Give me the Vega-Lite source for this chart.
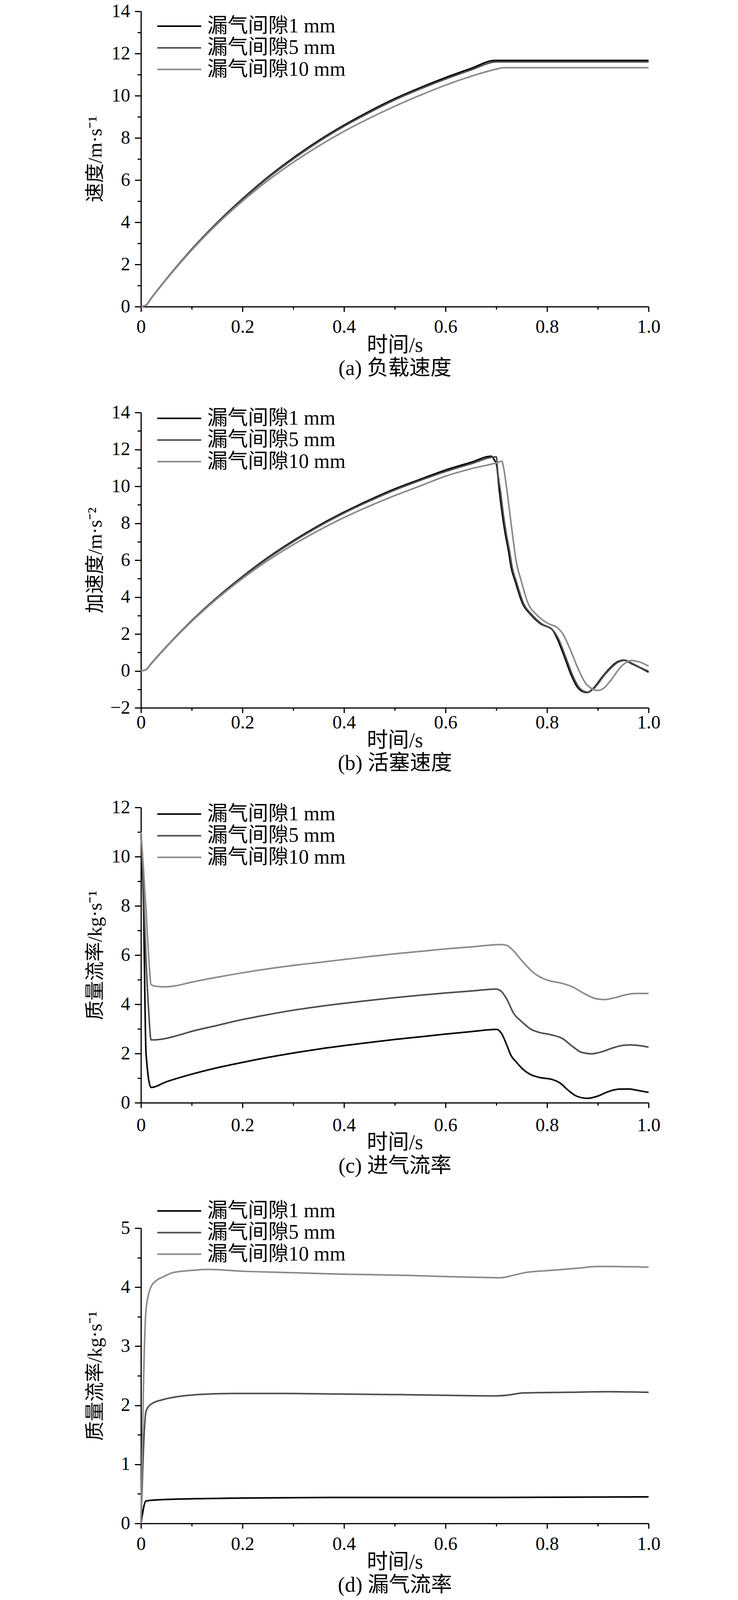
{
  "$schema": "https://vega.github.io/schema/vega-lite/v6.json",
  "background": "white",
  "padding": {"left": 219, "top": 5, "right": 10, "bottom": 0},
  "spacing": 62,
  "config": {
    "view": {"stroke": null},
    "font": "Liberation Serif",
    "axis": {
      "grid": false,
      "domainColor": "#000",
      "domainWidth": 3,
      "tickColor": "#000",
      "tickWidth": 3,
      "labelColor": "#000",
      "labelFont": "Liberation Serif",
      "labelFontSize": 48,
      "labelFlush": false,
      "labelOverlap": false,
      "labelBound": false,
      "titleColor": "#000",
      "titleFont": "Liberation Serif, Noto Sans CJK SC",
      "titleFontSize": 54,
      "titleFontWeight": "normal"
    },
    "axisLeft": {"titleFontSize": 50},
    "legend": {
      "orient": "none",
      "legendX": 72,
      "title": null,
      "padding": 0,
      "symbolType": "M-2.5,0H2.5",
      "symbolSize": 2025,
      "symbolStrokeWidth": 4.8,
      "labelFont": "Liberation Serif, Noto Sans CJK SC",
      "labelFontSize": 52,
      "labelColor": "#000",
      "labelOffset": 46,
      "labelLimit": 0,
      "rowPadding": 3.4
    },
    "line": {"strokeWidth": 4, "interpolate": "monotone"}
  },
  "datasets": {
    "a": [
      {"gap": "漏气间隙1 mm", "t": 0, "v": 0}, {"gap": "漏气间隙1 mm", "t": 0.01, "v": 0.07}, {"gap": "漏气间隙1 mm", "t": 0.02, "v": 0.39},
      {"gap": "漏气间隙1 mm", "t": 0.05, "v": 1.31}, {"gap": "漏气间隙1 mm", "t": 0.1, "v": 2.72}, {"gap": "漏气间隙1 mm", "t": 0.15, "v": 3.98},
      {"gap": "漏气间隙1 mm", "t": 0.2, "v": 5.11}, {"gap": "漏气间隙1 mm", "t": 0.25, "v": 6.14}, {"gap": "漏气间隙1 mm", "t": 0.3, "v": 7.05},
      {"gap": "漏气间隙1 mm", "t": 0.35, "v": 7.87}, {"gap": "漏气间隙1 mm", "t": 0.4, "v": 8.6}, {"gap": "漏气间隙1 mm", "t": 0.45, "v": 9.26},
      {"gap": "漏气间隙1 mm", "t": 0.5, "v": 9.86}, {"gap": "漏气间隙1 mm", "t": 0.55, "v": 10.38}, {"gap": "漏气间隙1 mm", "t": 0.6, "v": 10.86},
      {"gap": "漏气间隙1 mm", "t": 0.65, "v": 11.29}, {"gap": "漏气间隙1 mm", "t": 0.697, "v": 11.67}, {"gap": "漏气间隙1 mm", "t": 1.0, "v": 11.67},
      {"gap": "漏气间隙5 mm", "t": 0, "v": 0}, {"gap": "漏气间隙5 mm", "t": 0.01, "v": 0.07}, {"gap": "漏气间隙5 mm", "t": 0.02, "v": 0.39},
      {"gap": "漏气间隙5 mm", "t": 0.05, "v": 1.3}, {"gap": "漏气间隙5 mm", "t": 0.1, "v": 2.7}, {"gap": "漏气间隙5 mm", "t": 0.15, "v": 3.96},
      {"gap": "漏气间隙5 mm", "t": 0.2, "v": 5.08}, {"gap": "漏气间隙5 mm", "t": 0.25, "v": 6.1}, {"gap": "漏气间隙5 mm", "t": 0.3, "v": 7.0},
      {"gap": "漏气间隙5 mm", "t": 0.35, "v": 7.82}, {"gap": "漏气间隙5 mm", "t": 0.4, "v": 8.55}, {"gap": "漏气间隙5 mm", "t": 0.45, "v": 9.2},
      {"gap": "漏气间隙5 mm", "t": 0.5, "v": 9.8}, {"gap": "漏气间隙5 mm", "t": 0.55, "v": 10.32}, {"gap": "漏气间隙5 mm", "t": 0.6, "v": 10.79},
      {"gap": "漏气间隙5 mm", "t": 0.65, "v": 11.22}, {"gap": "漏气间隙5 mm", "t": 0.7, "v": 11.6}, {"gap": "漏气间隙5 mm", "t": 1.0, "v": 11.6},
      {"gap": "漏气间隙10 mm", "t": 0, "v": 0}, {"gap": "漏气间隙10 mm", "t": 0.01, "v": 0.07}, {"gap": "漏气间隙10 mm", "t": 0.02, "v": 0.38},
      {"gap": "漏气间隙10 mm", "t": 0.05, "v": 1.29}, {"gap": "漏气间隙10 mm", "t": 0.1, "v": 2.68}, {"gap": "漏气间隙10 mm", "t": 0.15, "v": 3.91},
      {"gap": "漏气间隙10 mm", "t": 0.2, "v": 5.0}, {"gap": "漏气间隙10 mm", "t": 0.25, "v": 5.98}, {"gap": "漏气间隙10 mm", "t": 0.3, "v": 6.84},
      {"gap": "漏气间隙10 mm", "t": 0.35, "v": 7.61}, {"gap": "漏气间隙10 mm", "t": 0.4, "v": 8.31}, {"gap": "漏气间隙10 mm", "t": 0.45, "v": 8.93},
      {"gap": "漏气间隙10 mm", "t": 0.5, "v": 9.5}, {"gap": "漏气间隙10 mm", "t": 0.55, "v": 10.02}, {"gap": "漏气间隙10 mm", "t": 0.6, "v": 10.5},
      {"gap": "漏气间隙10 mm", "t": 0.65, "v": 10.92}, {"gap": "漏气间隙10 mm", "t": 0.7, "v": 11.26}, {"gap": "漏气间隙10 mm", "t": 0.715, "v": 11.33},
      {"gap": "漏气间隙10 mm", "t": 1.0, "v": 11.33}
    ],
    "b": [
      {"gap": "漏气间隙1 mm", "t": 0, "v": 0}, {"gap": "漏气间隙1 mm", "t": 0.01, "v": 0.07}, {"gap": "漏气间隙1 mm", "t": 0.02, "v": 0.39},
      {"gap": "漏气间隙1 mm", "t": 0.05, "v": 1.31}, {"gap": "漏气间隙1 mm", "t": 0.1, "v": 2.72}, {"gap": "漏气间隙1 mm", "t": 0.15, "v": 3.98},
      {"gap": "漏气间隙1 mm", "t": 0.2, "v": 5.11}, {"gap": "漏气间隙1 mm", "t": 0.25, "v": 6.14}, {"gap": "漏气间隙1 mm", "t": 0.3, "v": 7.05},
      {"gap": "漏气间隙1 mm", "t": 0.35, "v": 7.87}, {"gap": "漏气间隙1 mm", "t": 0.4, "v": 8.6}, {"gap": "漏气间隙1 mm", "t": 0.45, "v": 9.26},
      {"gap": "漏气间隙1 mm", "t": 0.5, "v": 9.86}, {"gap": "漏气间隙1 mm", "t": 0.55, "v": 10.38}, {"gap": "漏气间隙1 mm", "t": 0.6, "v": 10.88},
      {"gap": "漏气间隙1 mm", "t": 0.65, "v": 11.3}, {"gap": "漏气间隙1 mm", "t": 0.69, "v": 11.63}, {"gap": "漏气间隙1 mm", "t": 0.696, "v": 11.44},
      {"gap": "漏气间隙1 mm", "t": 0.7005, "v": 11.17}, {"gap": "漏气间隙1 mm", "t": 0.706, "v": 9.76}, {"gap": "漏气间隙1 mm", "t": 0.713, "v": 8.25},
      {"gap": "漏气间隙1 mm", "t": 0.718, "v": 7.38}, {"gap": "漏气间隙1 mm", "t": 0.724, "v": 6.51}, {"gap": "漏气间隙1 mm", "t": 0.729, "v": 5.65},
      {"gap": "漏气间隙1 mm", "t": 0.738, "v": 4.79}, {"gap": "漏气间隙1 mm", "t": 0.751, "v": 3.7}, {"gap": "漏气间隙1 mm", "t": 0.768, "v": 3.05},
      {"gap": "漏气间隙1 mm", "t": 0.787, "v": 2.56}, {"gap": "漏气间隙1 mm", "t": 0.81, "v": 2.24}, {"gap": "漏气间隙1 mm", "t": 0.82, "v": 1.75},
      {"gap": "漏气间隙1 mm", "t": 0.834, "v": 0.78}, {"gap": "漏气间隙1 mm", "t": 0.848, "v": -0.25}, {"gap": "漏气间隙1 mm", "t": 0.859, "v": -0.85},
      {"gap": "漏气间隙1 mm", "t": 0.87, "v": -1.12}, {"gap": "漏气间隙1 mm", "t": 0.879, "v": -1.17}, {"gap": "漏气间隙1 mm", "t": 0.891, "v": -0.95},
      {"gap": "漏气间隙1 mm", "t": 0.911, "v": -0.25}, {"gap": "漏气间隙1 mm", "t": 0.927, "v": 0.24}, {"gap": "漏气间隙1 mm", "t": 0.938, "v": 0.48},
      {"gap": "漏气间隙1 mm", "t": 0.952, "v": 0.58}, {"gap": "漏气间隙1 mm", "t": 0.966, "v": 0.4}, {"gap": "漏气间隙1 mm", "t": 0.982, "v": 0.19},
      {"gap": "漏气间隙1 mm", "t": 1.0, "v": -0.07},
      {"gap": "漏气间隙5 mm", "t": 0, "v": 0}, {"gap": "漏气间隙5 mm", "t": 0.01, "v": 0.07}, {"gap": "漏气间隙5 mm", "t": 0.02, "v": 0.39},
      {"gap": "漏气间隙5 mm", "t": 0.05, "v": 1.3}, {"gap": "漏气间隙5 mm", "t": 0.1, "v": 2.7}, {"gap": "漏气间隙5 mm", "t": 0.15, "v": 3.96},
      {"gap": "漏气间隙5 mm", "t": 0.2, "v": 5.08}, {"gap": "漏气间隙5 mm", "t": 0.25, "v": 6.1}, {"gap": "漏气间隙5 mm", "t": 0.3, "v": 7.0},
      {"gap": "漏气间隙5 mm", "t": 0.35, "v": 7.82}, {"gap": "漏气间隙5 mm", "t": 0.4, "v": 8.55}, {"gap": "漏气间隙5 mm", "t": 0.45, "v": 9.2},
      {"gap": "漏气间隙5 mm", "t": 0.5, "v": 9.8}, {"gap": "漏气间隙5 mm", "t": 0.55, "v": 10.32}, {"gap": "漏气间隙5 mm", "t": 0.6, "v": 10.8},
      {"gap": "漏气间隙5 mm", "t": 0.65, "v": 11.22}, {"gap": "漏气间隙5 mm", "t": 0.7, "v": 11.6}, {"gap": "漏气间隙5 mm", "t": 0.703, "v": 10.73},
      {"gap": "漏气间隙5 mm", "t": 0.708, "v": 9.76}, {"gap": "漏气间隙5 mm", "t": 0.715, "v": 8.25}, {"gap": "漏气间隙5 mm", "t": 0.72, "v": 7.38},
      {"gap": "漏气间隙5 mm", "t": 0.726, "v": 6.51}, {"gap": "漏气间隙5 mm", "t": 0.731, "v": 5.65}, {"gap": "漏气间隙5 mm", "t": 0.74, "v": 4.79},
      {"gap": "漏气间隙5 mm", "t": 0.753, "v": 3.7}, {"gap": "漏气间隙5 mm", "t": 0.77, "v": 3.05}, {"gap": "漏气间隙5 mm", "t": 0.789, "v": 2.56},
      {"gap": "漏气间隙5 mm", "t": 0.811, "v": 2.22}, {"gap": "漏气间隙5 mm", "t": 0.822, "v": 1.76}, {"gap": "漏气间隙5 mm", "t": 0.836, "v": 0.8},
      {"gap": "漏气间隙5 mm", "t": 0.85, "v": -0.22}, {"gap": "漏气间隙5 mm", "t": 0.861, "v": -0.82}, {"gap": "漏气间隙5 mm", "t": 0.872, "v": -1.1},
      {"gap": "漏气间隙5 mm", "t": 0.881, "v": -1.15}, {"gap": "漏气间隙5 mm", "t": 0.893, "v": -0.93}, {"gap": "漏气间隙5 mm", "t": 0.913, "v": -0.23},
      {"gap": "漏气间隙5 mm", "t": 0.929, "v": 0.24}, {"gap": "漏气间隙5 mm", "t": 0.94, "v": 0.47}, {"gap": "漏气间隙5 mm", "t": 0.954, "v": 0.57},
      {"gap": "漏气间隙5 mm", "t": 0.968, "v": 0.4}, {"gap": "漏气间隙5 mm", "t": 0.984, "v": 0.18}, {"gap": "漏气间隙5 mm", "t": 1.0, "v": -0.02},
      {"gap": "漏气间隙10 mm", "t": 0, "v": 0}, {"gap": "漏气间隙10 mm", "t": 0.01, "v": 0.07}, {"gap": "漏气间隙10 mm", "t": 0.02, "v": 0.38},
      {"gap": "漏气间隙10 mm", "t": 0.05, "v": 1.29}, {"gap": "漏气间隙10 mm", "t": 0.1, "v": 2.68}, {"gap": "漏气间隙10 mm", "t": 0.15, "v": 3.91},
      {"gap": "漏气间隙10 mm", "t": 0.2, "v": 5.0}, {"gap": "漏气间隙10 mm", "t": 0.25, "v": 5.98}, {"gap": "漏气间隙10 mm", "t": 0.3, "v": 6.84},
      {"gap": "漏气间隙10 mm", "t": 0.35, "v": 7.61}, {"gap": "漏气间隙10 mm", "t": 0.4, "v": 8.31}, {"gap": "漏气间隙10 mm", "t": 0.45, "v": 8.93},
      {"gap": "漏气间隙10 mm", "t": 0.5, "v": 9.5}, {"gap": "漏气间隙10 mm", "t": 0.55, "v": 10.02}, {"gap": "漏气间隙10 mm", "t": 0.6, "v": 10.55},
      {"gap": "漏气间隙10 mm", "t": 0.65, "v": 10.95}, {"gap": "漏气间隙10 mm", "t": 0.7, "v": 11.27}, {"gap": "漏气间隙10 mm", "t": 0.711, "v": 11.36},
      {"gap": "漏气间隙10 mm", "t": 0.714, "v": 11.06}, {"gap": "漏气间隙10 mm", "t": 0.72, "v": 9.98}, {"gap": "漏气间隙10 mm", "t": 0.727, "v": 8.46},
      {"gap": "漏气间隙10 mm", "t": 0.732, "v": 7.38}, {"gap": "漏气间隙10 mm", "t": 0.739, "v": 5.97}, {"gap": "漏气间隙10 mm", "t": 0.749, "v": 4.89},
      {"gap": "漏气间隙10 mm", "t": 0.762, "v": 3.7}, {"gap": "漏气间隙10 mm", "t": 0.779, "v": 3.05}, {"gap": "漏气间隙10 mm", "t": 0.8, "v": 2.6},
      {"gap": "漏气间隙10 mm", "t": 0.822, "v": 2.3}, {"gap": "漏气间隙10 mm", "t": 0.83, "v": 2.05}, {"gap": "漏气间隙10 mm", "t": 0.845, "v": 1.21},
      {"gap": "漏气间隙10 mm", "t": 0.861, "v": 0.13}, {"gap": "漏气间隙10 mm", "t": 0.878, "v": -0.74}, {"gap": "漏气间隙10 mm", "t": 0.9, "v": -1.06},
      {"gap": "漏气间隙10 mm", "t": 0.911, "v": -0.95}, {"gap": "漏气间隙10 mm", "t": 0.927, "v": -0.46}, {"gap": "漏气间隙10 mm", "t": 0.946, "v": 0.24},
      {"gap": "漏气间隙10 mm", "t": 0.966, "v": 0.56}, {"gap": "漏气间隙10 mm", "t": 0.98, "v": 0.5}, {"gap": "漏气间隙10 mm", "t": 1.0, "v": 0.26}
    ],
    "c": [
      {"gap": "漏气间隙1 mm", "t": 0, "v": 11.0}, {"gap": "漏气间隙1 mm", "t": 0.005, "v": 8.0}, {"gap": "漏气间隙1 mm", "t": 0.01, "v": 2.0},
      {"gap": "漏气间隙1 mm", "t": 0.02, "v": 0.62}, {"gap": "漏气间隙1 mm", "t": 0.05, "v": 0.85}, {"gap": "漏气间隙1 mm", "t": 0.1, "v": 1.16},
      {"gap": "漏气间隙1 mm", "t": 0.15, "v": 1.42}, {"gap": "漏气间隙1 mm", "t": 0.2, "v": 1.64}, {"gap": "漏气间隙1 mm", "t": 0.25, "v": 1.84},
      {"gap": "漏气间隙1 mm", "t": 0.3, "v": 2.02}, {"gap": "漏气间隙1 mm", "t": 0.35, "v": 2.18}, {"gap": "漏气间隙1 mm", "t": 0.4, "v": 2.32},
      {"gap": "漏气间隙1 mm", "t": 0.45, "v": 2.45}, {"gap": "漏气间隙1 mm", "t": 0.5, "v": 2.57}, {"gap": "漏气间隙1 mm", "t": 0.55, "v": 2.68},
      {"gap": "漏气间隙1 mm", "t": 0.6, "v": 2.79}, {"gap": "漏气间隙1 mm", "t": 0.65, "v": 2.89}, {"gap": "漏气间隙1 mm", "t": 0.701, "v": 2.98},
      {"gap": "漏气间隙1 mm", "t": 0.711, "v": 2.79}, {"gap": "漏气间隙1 mm", "t": 0.7205, "v": 2.35},
      {"gap": "漏气间隙1 mm", "t": 0.729, "v": 1.92}, {"gap": "漏气间隙1 mm", "t": 0.74, "v": 1.64}, {"gap": "漏气间隙1 mm", "t": 0.751, "v": 1.39},
      {"gap": "漏气间隙1 mm", "t": 0.767, "v": 1.15}, {"gap": "漏气间隙1 mm", "t": 0.787, "v": 1.02}, {"gap": "漏气间隙1 mm", "t": 0.811, "v": 0.94},
      {"gap": "漏气间隙1 mm", "t": 0.825, "v": 0.81}, {"gap": "漏气间隙1 mm", "t": 0.842, "v": 0.5}, {"gap": "漏气间隙1 mm", "t": 0.858, "v": 0.27},
      {"gap": "漏气间隙1 mm", "t": 0.879, "v": 0.18}, {"gap": "漏气间隙1 mm", "t": 0.9, "v": 0.27}, {"gap": "漏气间隙1 mm", "t": 0.919, "v": 0.44},
      {"gap": "漏气间隙1 mm", "t": 0.941, "v": 0.55}, {"gap": "漏气间隙1 mm", "t": 0.96, "v": 0.56}, {"gap": "漏气间隙1 mm", "t": 0.979, "v": 0.5},
      {"gap": "漏气间隙1 mm", "t": 1.0, "v": 0.42},
      {"gap": "漏气间隙5 mm", "t": 0, "v": 11.0}, {"gap": "漏气间隙5 mm", "t": 0.005, "v": 8.5}, {"gap": "漏气间隙5 mm", "t": 0.01, "v": 5.8},
      {"gap": "漏气间隙5 mm", "t": 0.015, "v": 3.8}, {"gap": "漏气间隙5 mm", "t": 0.02, "v": 2.55}, {"gap": "漏气间隙5 mm", "t": 0.04, "v": 2.58},
      {"gap": "漏气间隙5 mm", "t": 0.07, "v": 2.72}, {"gap": "漏气间隙5 mm", "t": 0.1, "v": 2.9}, {"gap": "漏气间隙5 mm", "t": 0.15, "v": 3.14},
      {"gap": "漏气间隙5 mm", "t": 0.2, "v": 3.38}, {"gap": "漏气间隙5 mm", "t": 0.25, "v": 3.58}, {"gap": "漏气间隙5 mm", "t": 0.3, "v": 3.76},
      {"gap": "漏气间隙5 mm", "t": 0.35, "v": 3.91}, {"gap": "漏气间隙5 mm", "t": 0.4, "v": 4.04}, {"gap": "漏气间隙5 mm", "t": 0.45, "v": 4.16},
      {"gap": "漏气间隙5 mm", "t": 0.5, "v": 4.27}, {"gap": "漏气间隙5 mm", "t": 0.55, "v": 4.37}, {"gap": "漏气间隙5 mm", "t": 0.6, "v": 4.46},
      {"gap": "漏气间隙5 mm", "t": 0.65, "v": 4.54}, {"gap": "漏气间隙5 mm", "t": 0.7, "v": 4.62}, {"gap": "漏气间隙5 mm", "t": 0.71, "v": 4.52},
      {"gap": "漏气间隙5 mm", "t": 0.721, "v": 4.2},
      {"gap": "漏气间隙5 mm", "t": 0.734, "v": 3.64}, {"gap": "漏气间隙5 mm", "t": 0.751, "v": 3.28}, {"gap": "漏气间隙5 mm", "t": 0.767, "v": 3.0},
      {"gap": "漏气间隙5 mm", "t": 0.784, "v": 2.86}, {"gap": "漏气间隙5 mm", "t": 0.806, "v": 2.77}, {"gap": "漏气间隙5 mm", "t": 0.831, "v": 2.6},
      {"gap": "漏气间隙5 mm", "t": 0.85, "v": 2.29}, {"gap": "漏气间隙5 mm", "t": 0.869, "v": 2.04}, {"gap": "漏气间隙5 mm", "t": 0.888, "v": 1.99},
      {"gap": "漏气间隙5 mm", "t": 0.908, "v": 2.07}, {"gap": "漏气间隙5 mm", "t": 0.93, "v": 2.23}, {"gap": "漏气间隙5 mm", "t": 0.949, "v": 2.33},
      {"gap": "漏气间隙5 mm", "t": 0.966, "v": 2.35}, {"gap": "漏气间隙5 mm", "t": 0.982, "v": 2.32}, {"gap": "漏气间隙5 mm", "t": 1.0, "v": 2.26},
      {"gap": "漏气间隙10 mm", "t": 0, "v": 11.0}, {"gap": "漏气间隙10 mm", "t": 0.005, "v": 9.5}, {"gap": "漏气间隙10 mm", "t": 0.01, "v": 7.8},
      {"gap": "漏气间隙10 mm", "t": 0.015, "v": 6.0}, {"gap": "漏气间隙10 mm", "t": 0.02, "v": 4.8}, {"gap": "漏气间隙10 mm", "t": 0.03, "v": 4.73},
      {"gap": "漏气间隙10 mm", "t": 0.05, "v": 4.71}, {"gap": "漏气间隙10 mm", "t": 0.07, "v": 4.76}, {"gap": "漏气间隙10 mm", "t": 0.1, "v": 4.9},
      {"gap": "漏气间隙10 mm", "t": 0.15, "v": 5.1}, {"gap": "漏气间隙10 mm", "t": 0.2, "v": 5.28}, {"gap": "漏气间隙10 mm", "t": 0.25, "v": 5.44},
      {"gap": "漏气间隙10 mm", "t": 0.3, "v": 5.58}, {"gap": "漏气间隙10 mm", "t": 0.35, "v": 5.7}, {"gap": "漏气间隙10 mm", "t": 0.4, "v": 5.82},
      {"gap": "漏气间隙10 mm", "t": 0.45, "v": 5.94}, {"gap": "漏气间隙10 mm", "t": 0.5, "v": 6.05}, {"gap": "漏气间隙10 mm", "t": 0.55, "v": 6.15},
      {"gap": "漏气间隙10 mm", "t": 0.6, "v": 6.25}, {"gap": "漏气间隙10 mm", "t": 0.65, "v": 6.33}, {"gap": "漏气间隙10 mm", "t": 0.71, "v": 6.43},
      {"gap": "漏气间隙10 mm", "t": 0.721, "v": 6.39}, {"gap": "漏气间隙10 mm", "t": 0.734, "v": 6.17},
      {"gap": "漏气间隙10 mm", "t": 0.748, "v": 5.83}, {"gap": "漏气间隙10 mm", "t": 0.762, "v": 5.51}, {"gap": "漏气间隙10 mm", "t": 0.773, "v": 5.29},
      {"gap": "漏气间隙10 mm", "t": 0.789, "v": 5.08}, {"gap": "漏气间隙10 mm", "t": 0.806, "v": 4.95}, {"gap": "漏气间隙10 mm", "t": 0.828, "v": 4.86},
      {"gap": "漏气间隙10 mm", "t": 0.85, "v": 4.71}, {"gap": "漏气间隙10 mm", "t": 0.872, "v": 4.45}, {"gap": "漏气间隙10 mm", "t": 0.894, "v": 4.24},
      {"gap": "漏气间隙10 mm", "t": 0.913, "v": 4.19}, {"gap": "漏气间隙10 mm", "t": 0.932, "v": 4.26}, {"gap": "漏气间隙10 mm", "t": 0.954, "v": 4.38},
      {"gap": "漏气间隙10 mm", "t": 0.973, "v": 4.44}, {"gap": "漏气间隙10 mm", "t": 1.0, "v": 4.44}
    ],
    "d": [
      {"gap": "漏气间隙1 mm", "t": 0, "v": 0}, {"gap": "漏气间隙1 mm", "t": 0.01, "v": 0.38}, {"gap": "漏气间隙1 mm", "t": 0.035, "v": 0.4},
      {"gap": "漏气间隙1 mm", "t": 0.2, "v": 0.43}, {"gap": "漏气间隙1 mm", "t": 0.4, "v": 0.44}, {"gap": "漏气间隙1 mm", "t": 0.7, "v": 0.44},
      {"gap": "漏气间隙1 mm", "t": 1.0, "v": 0.45},
      {"gap": "漏气间隙5 mm", "t": 0, "v": 0}, {"gap": "漏气间隙5 mm", "t": 0.01, "v": 1.9}, {"gap": "漏气间隙5 mm", "t": 0.02, "v": 2.02},
      {"gap": "漏气间隙5 mm", "t": 0.045, "v": 2.1}, {"gap": "漏气间隙5 mm", "t": 0.074, "v": 2.15}, {"gap": "漏气间隙5 mm", "t": 0.108, "v": 2.18},
      {"gap": "漏气间隙5 mm", "t": 0.18, "v": 2.2}, {"gap": "漏气间隙5 mm", "t": 0.28, "v": 2.2}, {"gap": "漏气间隙5 mm", "t": 0.4, "v": 2.19},
      {"gap": "漏气间隙5 mm", "t": 0.525, "v": 2.18}, {"gap": "漏气间隙5 mm", "t": 0.6, "v": 2.17}, {"gap": "漏气间隙5 mm", "t": 0.7, "v": 2.16},
      {"gap": "漏气间隙5 mm", "t": 0.72, "v": 2.17}, {"gap": "漏气间隙5 mm", "t": 0.755, "v": 2.21}, {"gap": "漏气间隙5 mm", "t": 0.84, "v": 2.22},
      {"gap": "漏气间隙5 mm", "t": 0.918, "v": 2.23}, {"gap": "漏气间隙5 mm", "t": 1.0, "v": 2.22},
      {"gap": "漏气间隙10 mm", "t": 0, "v": 0}, {"gap": "漏气间隙10 mm", "t": 0.01, "v": 3.62}, {"gap": "漏气间隙10 mm", "t": 0.02, "v": 4.01},
      {"gap": "漏气间隙10 mm", "t": 0.03, "v": 4.11}, {"gap": "漏气间隙10 mm", "t": 0.045, "v": 4.18}, {"gap": "漏气间隙10 mm", "t": 0.064, "v": 4.25},
      {"gap": "漏气间隙10 mm", "t": 0.094, "v": 4.28}, {"gap": "漏气间隙10 mm", "t": 0.133, "v": 4.3}, {"gap": "漏气间隙10 mm", "t": 0.2, "v": 4.27},
      {"gap": "漏气间隙10 mm", "t": 0.28, "v": 4.25}, {"gap": "漏气间隙10 mm", "t": 0.4, "v": 4.22}, {"gap": "漏气间隙10 mm", "t": 0.525, "v": 4.2},
      {"gap": "漏气间隙10 mm", "t": 0.6, "v": 4.18}, {"gap": "漏气间隙10 mm", "t": 0.647, "v": 4.17}, {"gap": "漏气间隙10 mm", "t": 0.709, "v": 4.16},
      {"gap": "漏气间隙10 mm", "t": 0.728, "v": 4.19}, {"gap": "漏气间隙10 mm", "t": 0.759, "v": 4.25}, {"gap": "漏气间隙10 mm", "t": 0.801, "v": 4.28},
      {"gap": "漏气间隙10 mm", "t": 0.859, "v": 4.32}, {"gap": "漏气间隙10 mm", "t": 0.898, "v": 4.35}, {"gap": "漏气间隙10 mm", "t": 0.921, "v": 4.35},
      {"gap": "漏气间隙10 mm", "t": 1.0, "v": 4.34}
    ]
  },
  "vconcat": [
    {
      "width": 1300,
      "height": 756,
      "data": {"name": "a"},
      "mark": {"type": "line"},
      "encoding": {
        "x": {
          "field": "t", "type": "quantitative",
          "scale": {"domain": [0, 1], "nice": false},
          "axis": {
            "values": [0, 0.1, 0.2, 0.3, 0.4, 0.5, 0.6, 0.7, 0.8, 0.9, 1.0],
            "labelExpr": "abs(datum.value*5 - round(datum.value*5)) < 0.001 ? (datum.value == 0 ? '0' : format(datum.value, '.1f')) : ''",
            "tickSize": {"condition": {"test": "abs(datum.value*5 - round(datum.value*5)) < 0.001", "value": 13}, "value": 7},
            "labelPadding": 15,
            "title": ["时间/s", "(a) 负载速度"],
            "titleLineHeight": 59,
            "titleBaseline": "middle",
            "titleY": 99
          }
        },
        "y": {
          "field": "v", "type": "quantitative",
          "scale": {"domain": [0, 14], "nice": false},
          "axis": {
            "values": [0, 1, 2, 3, 4, 5, 6, 7, 8, 9, 10, 11, 12, 13, 14],
            "labelExpr": "datum.value % 2 == 0 ? format(datum.value, 'd') : ''",
            "tickSize": {"condition": {"test": "datum.value % 2 == 0", "value": 16}, "value": 9},
            "labelPadding": 12,
            "title": "速度/m·s⁻¹",
            "titleX": -117,
            "titleY": 378,
            "titleAngle": -90,
            "titleAlign": "center",
            "titleBaseline": "middle"
          }
        },
        "color": {
          "field": "gap", "type": "nominal",
          "scale": {"domain": ["漏气间隙1 mm", "漏气间隙5 mm", "漏气间隙10 mm"], "range": ["#000000", "#4d4d4d", "#8a8a8a"]},
          "legend": {"legendY": 12}
        }
      }
    },
    {
      "width": 1300,
      "height": 756,
      "data": {"name": "b"},
      "mark": {"type": "line"},
      "encoding": {
        "x": {
          "field": "t", "type": "quantitative",
          "scale": {"domain": [0, 1], "nice": false},
          "axis": {
            "values": [0, 0.1, 0.2, 0.3, 0.4, 0.5, 0.6, 0.7, 0.8, 0.9, 1.0],
            "labelExpr": "abs(datum.value*5 - round(datum.value*5)) < 0.001 ? (datum.value == 0 ? '0' : format(datum.value, '.1f')) : ''",
            "tickSize": {"condition": {"test": "abs(datum.value*5 - round(datum.value*5)) < 0.001", "value": 13}, "value": 7},
            "labelPadding": 1,
            "title": ["时间/s", "(b) 活塞速度"],
            "titleLineHeight": 58,
            "titleBaseline": "middle",
            "titleY": 84
          }
        },
        "y": {
          "field": "v", "type": "quantitative",
          "scale": {"domain": [-2, 14], "nice": false},
          "axis": {
            "values": [-2, -1, 0, 1, 2, 3, 4, 5, 6, 7, 8, 9, 10, 11, 12, 13, 14],
            "labelExpr": "datum.value % 2 == 0 ? format(datum.value, 'd') : ''",
            "tickSize": {"condition": {"test": "datum.value % 2 == 0", "value": 16}, "value": 9},
            "labelPadding": 12,
            "title": "加速度/m·s⁻²",
            "titleX": -117,
            "titleY": 378,
            "titleAngle": -90,
            "titleAlign": "center",
            "titleBaseline": "middle"
          }
        },
        "color": {
          "field": "gap", "type": "nominal",
          "scale": {"domain": ["漏气间隙1 mm", "漏气间隙5 mm", "漏气间隙10 mm"], "range": ["#000000", "#4d4d4d", "#8a8a8a"]},
          "legend": {"legendY": -11}
        }
      }
    },
    {
      "width": 1300,
      "height": 756,
      "data": {"name": "c"},
      "mark": {"type": "line"},
      "encoding": {
        "x": {
          "field": "t", "type": "quantitative",
          "scale": {"domain": [0, 1], "nice": false},
          "axis": {
            "values": [0, 0.1, 0.2, 0.3, 0.4, 0.5, 0.6, 0.7, 0.8, 0.9, 1.0],
            "labelExpr": "abs(datum.value*5 - round(datum.value*5)) < 0.001 ? (datum.value == 0 ? '0' : format(datum.value, '.1f')) : ''",
            "tickSize": {"condition": {"test": "abs(datum.value*5 - round(datum.value*5)) < 0.001", "value": 13}, "value": 7},
            "labelPadding": 21,
            "title": ["时间/s", "(c) 进气流率"],
            "titleLineHeight": 60,
            "titleBaseline": "middle",
            "titleY": 102
          }
        },
        "y": {
          "field": "v", "type": "quantitative",
          "scale": {"domain": [0, 12], "nice": false},
          "axis": {
            "values": [0, 1, 2, 3, 4, 5, 6, 7, 8, 9, 10, 11, 12],
            "labelExpr": "datum.value % 2 == 0 ? format(datum.value, 'd') : ''",
            "tickSize": {"condition": {"test": "datum.value % 2 == 0", "value": 16}, "value": 9},
            "labelPadding": 12,
            "title": "质量流率/kg·s⁻¹",
            "titleX": -117,
            "titleY": 378,
            "titleAngle": -90,
            "titleAlign": "center",
            "titleBaseline": "middle"
          }
        },
        "color": {
          "field": "gap", "type": "nominal",
          "scale": {"domain": ["漏气间隙1 mm", "漏气间隙5 mm", "漏气间隙10 mm"], "range": ["#000000", "#4d4d4d", "#8a8a8a"]},
          "legend": {"legendY": -9}
        }
      }
    },
    {
      "width": 1300,
      "height": 756,
      "data": {"name": "d"},
      "mark": {"type": "line"},
      "encoding": {
        "x": {
          "field": "t", "type": "quantitative",
          "scale": {"domain": [0, 1], "nice": false},
          "axis": {
            "values": [0, 0.1, 0.2, 0.3, 0.4, 0.5, 0.6, 0.7, 0.8, 0.9, 1.0],
            "labelExpr": "abs(datum.value*5 - round(datum.value*5)) < 0.001 ? (datum.value == 0 ? '0' : format(datum.value, '.1f')) : ''",
            "tickSize": {"condition": {"test": "abs(datum.value*5 - round(datum.value*5)) < 0.001", "value": 13}, "value": 7},
            "labelPadding": 16,
            "title": ["时间/s", "(d) 漏气流率"],
            "titleLineHeight": 59,
            "titleBaseline": "middle",
            "titleY": 99
          }
        },
        "y": {
          "field": "v", "type": "quantitative",
          "scale": {"domain": [0, 5], "nice": false},
          "axis": {
            "values": [0, 0.5, 1, 1.5, 2, 2.5, 3, 3.5, 4, 4.5, 5],
            "labelExpr": "datum.value % 1 == 0 ? format(datum.value, 'd') : ''",
            "tickSize": {"condition": {"test": "datum.value % 1 == 0", "value": 16}, "value": 9},
            "labelPadding": 12,
            "title": "质量流率/kg·s⁻¹",
            "titleX": -117,
            "titleY": 378,
            "titleAngle": -90,
            "titleAlign": "center",
            "titleBaseline": "middle"
          }
        },
        "color": {
          "field": "gap", "type": "nominal",
          "scale": {"domain": ["漏气间隙1 mm", "漏气间隙5 mm", "漏气间隙10 mm"], "range": ["#000000", "#4d4d4d", "#8a8a8a"]},
          "legend": {"legendY": -70}
        }
      }
    }
  ],
  "resolve": {"scale": {"x": "independent", "y": "independent", "color": "independent"}, "legend": {"color": "independent"}}
}
